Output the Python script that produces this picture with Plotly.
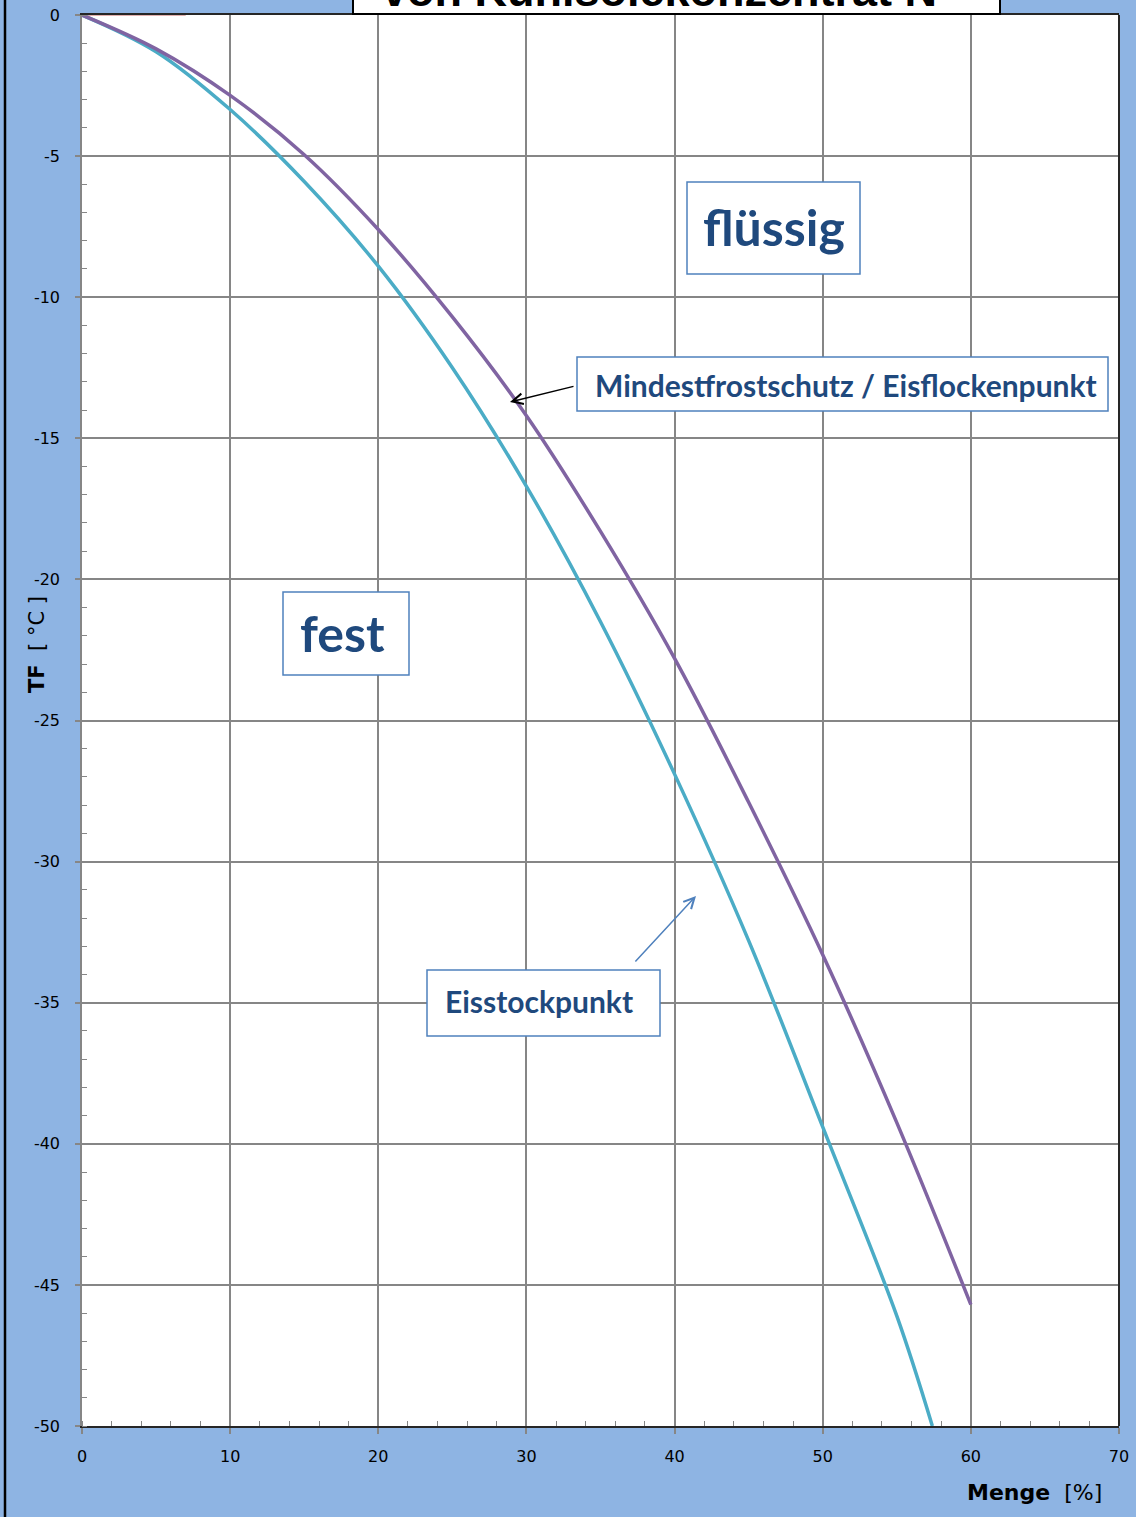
import plotly.graph_objects as go

# Concentration of coolant concentrate N in percent
menge_flocken = [0, 5, 10, 15, 20, 25, 30, 35, 40, 45, 50, 55, 60]
# Minimum frost protection / ice flake point in degC
tf_flocken = [0, -1.2, -2.85, -4.95, -7.6, -10.7, -14.2, -18.3, -22.8, -27.9, -33.3, -39.25, -45.7]

menge_stock = [0, 5, 10, 15, 20, 25, 30, 35, 40, 45, 50, 55, 57.4]
# Ice solidification point in degC
tf_stock = [0, -1.3, -3.35, -5.9, -8.9, -12.5, -16.7, -21.5, -26.9, -32.8, -39.4, -46.1, -50.0]

# short reference series along 0 degC
menge_null = [0, 7]
tf_null = [0, 0]

x_ticks = [0, 10, 20, 30, 40, 50, 60, 70]
y_ticks = [0, -5, -10, -15, -20, -25, -30, -35, -40, -45, -50]
y_ticklabels = ["0", "-5", "-10", "-15", "-20", "-25", "-30", "-35", "-40", "-45", "-50"]

W, H = 1136, 1517
L, R, T, B = 82, 1119, 15, 1426          # plot area in pixels
XMIN, XMAX, YMIN, YMAX = 0, 70, -50, 0

BG = "#8EB4E3"
GRID = "#868686"
PURPLE = "#8064A2"
AQUA = "#4BACC6"
NAVY = "#1F497D"
BOXLINE = "#4F81BD"


def dx(px):
    return XMIN + (px - L) / (R - L) * (XMAX - XMIN)


def dy(py):
    return YMAX - (py - T) / (B - T) * (YMAX - YMIN)


def paper_x(px):
    return (px - L) / (R - L)


def paper_y(py):
    return (B - py) / (B - T)


fig = go.Figure()

fig.add_trace(go.Scatter(x=menge_null, y=tf_null, mode="lines",
                         line=dict(color="#C0504D", width=1.5), opacity=0.6,
                         hoverinfo="skip", showlegend=False))
fig.add_trace(go.Scatter(x=menge_stock, y=tf_stock, mode="lines", name="Eisstockpunkt",
                         line=dict(color=AQUA, width=3.5, shape="spline", smoothing=1.0),
                         showlegend=False))
fig.add_trace(go.Scatter(x=menge_flocken, y=tf_flocken, mode="lines",
                         name="Mindestfrostschutz / Eisflockenpunkt",
                         line=dict(color=PURPLE, width=3.5, shape="spline", smoothing=1.0),
                         showlegend=False))

tickfont = dict(family="DejaVu Sans", size=16, color="#000000")

fig.update_xaxes(range=[XMIN, XMAX], tickvals=x_ticks, ticktext=[str(v) for v in x_ticks],
                 showgrid=True, gridcolor=GRID, gridwidth=1.5,
                 showline=True, linecolor="#262626", linewidth=1.5, mirror=True,
                 ticks="outside", ticklen=6, tickcolor=GRID, tickwidth=1.5,
                 ticklabelstandoff=9, automargin=False,
                 minor=dict(dtick=2, ticks="inside", ticklen=5, tickcolor=GRID,
                            tickwidth=1, showgrid=False),
                 tickfont=tickfont, zeroline=False, fixedrange=True)
fig.update_yaxes(range=[YMIN, YMAX], tickvals=y_ticks, ticktext=y_ticklabels,
                 showgrid=True, gridcolor=GRID, gridwidth=1.5,
                 showline=True, linecolor=GRID, linewidth=1.5, mirror=False,
                 ticks="outside", ticklen=5, tickcolor=GRID, tickwidth=1.5,
                 ticklabelstandoff=12, automargin=False,
                 minor=dict(dtick=1, ticks="inside", ticklen=5, tickcolor=GRID,
                            tickwidth=1, showgrid=False),
                 tickfont=tickfont, zeroline=False, fixedrange=True)

shapes = []
# right border of the plot area
shapes.append(dict(type="line", xref="paper", yref="paper", x0=1, x1=1, y0=0, y1=1,
                   line=dict(color="#262626", width=2), layer="above"))
# outer chart frame on the left
shapes.append(dict(type="line", xref="paper", yref="paper",
                   x0=paper_x(5), x1=paper_x(5), y0=paper_y(H + 5), y1=paper_y(-5),
                   line=dict(color="#000000", width=2.5), layer="above"))
# title box
shapes.append(dict(type="rect", xref="paper", yref="paper",
                   x0=paper_x(353), x1=paper_x(1000), y0=paper_y(14), y1=paper_y(-60),
                   fillcolor="#FFFFFF", line=dict(color="#000000", width=2), layer="above"))


def label_box(x0, y0, x1, y1):
    shapes.append(dict(type="rect", xref="x", yref="y",
                       x0=dx(x0), x1=dx(x1), y0=dy(y0), y1=dy(y1),
                       fillcolor="#FFFFFF", line=dict(color=BOXLINE, width=1.5),
                       layer="above"))


label_box(687, 182, 860, 274)     # flüssig
label_box(283, 592, 409, 675)     # fest
label_box(577, 357, 1108, 411)    # Mindestfrostschutz
label_box(427, 970, 660, 1036)    # Eisstockpunkt

fig.update_layout(shapes=shapes)

annotations = []
LABELFONT = "Lato"
annotations.append(dict(xref="x", yref="y", x=dx(774), y=dy(227), text="<b>flüssig</b>",
                        showarrow=False, xanchor="center", yanchor="middle",
                        font=dict(family=LABELFONT, size=50, color=NAVY)))
annotations.append(dict(xref="x", yref="y", x=dx(342), y=dy(633), text="<b>fest</b>",
                        showarrow=False, xanchor="center", yanchor="middle",
                        font=dict(family=LABELFONT, size=50, color=NAVY)))
annotations.append(dict(xref="x", yref="y", x=dx(593), y=dy(385),
                        text="<b>Mindestfrostschutz / Eisflockenpunkt</b>",
                        showarrow=False, xanchor="left", yanchor="middle",
                        font=dict(family=LABELFONT, size=30, color=NAVY)))
annotations.append(dict(xref="x", yref="y", x=dx(443), y=dy(1001), text="<b>Eisstockpunkt</b>",
                        showarrow=False, xanchor="left", yanchor="middle",
                        font=dict(family=LABELFONT, size=30, color=NAVY)))

# arrows pointing at the curves
annotations.append(dict(xref="x", yref="y", axref="x", ayref="y",
                        x=dx(510), y=dy(402), ax=dx(575), ay=dy(386), text="",
                        showarrow=True, arrowhead=5, arrowsize=1.4, arrowwidth=1.5,
                        arrowcolor="#000000"))
annotations.append(dict(xref="x", yref="y", axref="x", ayref="y",
                        x=dx(696), y=dy(896), ax=dx(634), ay=dy(963), text="",
                        showarrow=True, arrowhead=5, arrowsize=1.4, arrowwidth=1.5,
                        arrowcolor=BOXLINE))

# axis titles
annotations.append(dict(xref="paper", yref="paper", x=paper_x(37), y=paper_y(645),
                        text="<b>TF</b>  [ °C ]", textangle=-90, showarrow=False,
                        xanchor="center", yanchor="middle",
                        font=dict(family="DejaVu Sans", size=21, color="#000000")))
annotations.append(dict(xref="paper", yref="paper", x=paper_x(1104), y=paper_y(1493),
                        text="<b>Menge</b>  [%]", showarrow=False,
                        xanchor="right", yanchor="middle",
                        font=dict(family="DejaVu Sans", size=22, color="#000000")))

# chart title (second line, top part lies above the page)
annotations.append(dict(xref="paper", yref="paper", x=paper_x(659), y=paper_y(18),
                        text="<b>von Kühlsolekonzentrat N</b>", showarrow=False,
                        xanchor="center", yanchor="bottom",
                        font=dict(family="Liberation Sans", size=45, color="#000000")))

fig.update_layout(
    annotations=annotations,
    width=W, height=H,
    margin=dict(l=L, r=W - R, t=T, b=H - B, pad=0, autoexpand=False),
    paper_bgcolor=BG, plot_bgcolor="#FFFFFF",
    showlegend=False,
)

fig.write_html("out.html", config={"displayModeBar": False})
